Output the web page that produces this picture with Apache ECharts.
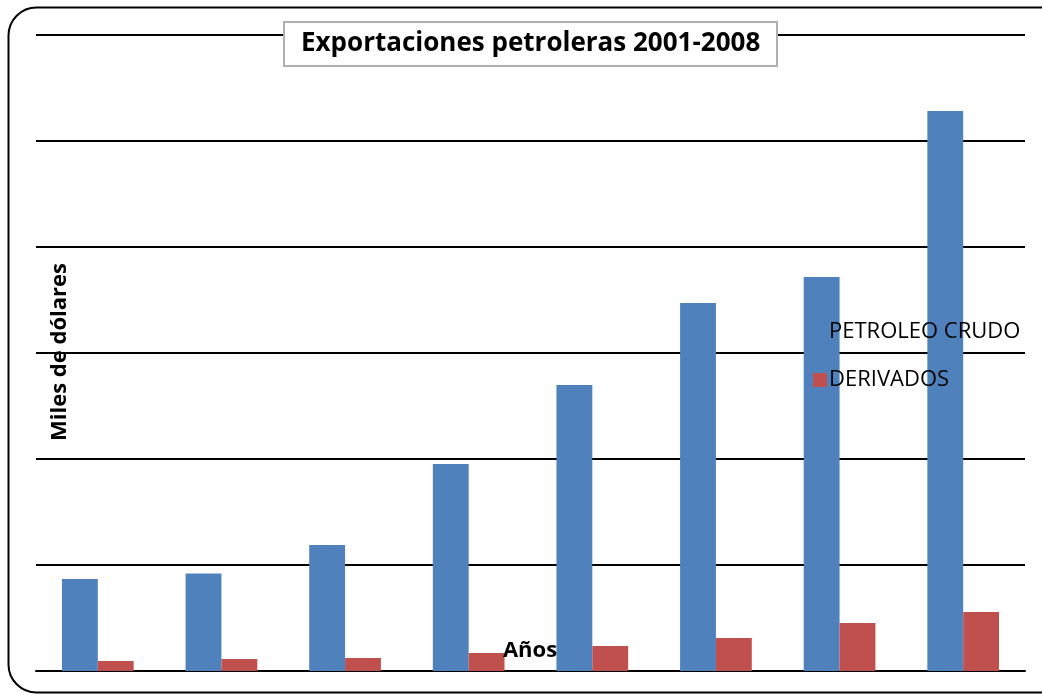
<!DOCTYPE html>
<html><head><meta charset="utf-8">
<script src="https://cdn.jsdelivr.net/npm/echarts@6/dist/echarts.min.js"></script>
<style>html,body{margin:0;padding:0;background:#fff}#c{width:1042px;height:695px}</style>
</head><body><div id="c"></div>
<script>
const years = ['2001','2002','2003','2004','2005','2006','2007','2008'];
const crudo = [868, 920, 1189, 1953, 2698, 3472, 3717, 5283];
const derivados = [94, 113, 123, 170, 236, 311, 453, 557];
const seriesNames = ['PETROLEO CRUDO', 'DERIVADOS'];
const titleText = 'Exportaciones petroleras 2001-2008';
const yTitle = 'Miles de dólares';
const xTitle = 'Años';

const font = '"Open Sans", "Liberation Sans", sans-serif';
const chart = echarts.init(document.getElementById('c'), null, {renderer: 'canvas'});
chart.setOption({
  animation: false,
  backgroundColor: '#fff',
  title: {
    text: titleText, left: 284, top: 22,
    padding: [7, 17, 7, 17],
    borderColor: '#b0b0b0', borderWidth: 2,
    backgroundColor: '#fff',
    textStyle: {fontFamily: font, fontWeight: 'bold', fontSize: 26, lineHeight: 30, color: '#000'}
  },
  legend: {
    orient: 'vertical', left: 808, top: 315,
    itemWidth: 14, itemHeight: 14, itemGap: 24,
    icon: 'rect', z: 10,
    textStyle: {fontFamily: font, fontSize: 22, lineHeight: 24, color: '#000', padding: [0,0,0,-3]},
    data: seriesNames
  },
  grid: {left: 36, right: 17, top: 35, bottom: 24, containLabel: false},
  xAxis: {
    type: 'category', data: years,
    axisLine: {show: true, lineStyle: {color: '#000', width: 2}},
    axisTick: {show: false}, axisLabel: {show: false}
  },
  yAxis: {
    type: 'value', min: 0, max: 6000, interval: 1000,
    axisLine: {show: false}, axisTick: {show: false}, axisLabel: {show: false},
    splitLine: {lineStyle: {color: '#000', width: 2}}
  },
  series: [
    {name: seriesNames[0], type: 'bar', data: crudo, barGap: '0%', barCategoryGap: '42%',
     itemStyle: {color: '#4F81BD'}},
    {name: seriesNames[1], type: 'bar', data: derivados, barGap: '0%', barCategoryGap: '42%',
     itemStyle: {color: '#C0504D'}}
  ],
  graphic: [
    {type: 'rect', left: 6, top: 5, z: 100, silent: true,
     shape: {width: 1060, height: 685, r: 28},
     style: {fill: 'none', stroke: '#000', lineWidth: 2}},
    {type: 'text', x: 60, y: 352, rotation: Math.PI/2, z: 50,
     style: {text: yTitle, fontFamily: font, fontWeight: 'bold', fontSize: 22, fill: '#000',
             textAlign: 'center', textVerticalAlign: 'middle'}},
    {type: 'text', x: 530, y: 651, z: 50,
     style: {text: xTitle, fontFamily: font, fontWeight: 'bold', fontSize: 22, fill: '#000',
             textAlign: 'center', textVerticalAlign: 'middle'}}
  ]
});
</script></body></html>
